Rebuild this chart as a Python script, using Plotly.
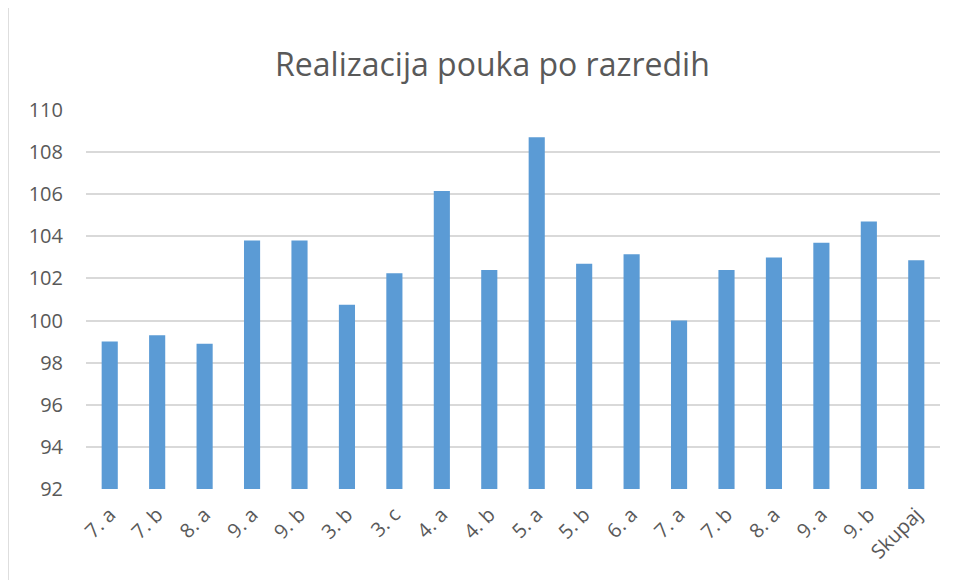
import plotly.graph_objects as go

categories = ["7. a", "7. b", "8. a", "9. a", "9. b", "3. b", "3. c", "4. a", "4. b",
              "5. a", "5. b", "6. a", "7. a", "7. b", "8. a", "9. a", "9. b", "Skupaj"]
values = [99.0, 99.3, 98.9, 103.8, 103.8, 100.75, 102.25, 106.15, 102.4,
          108.7, 102.7, 103.15, 100.0, 102.4, 103.0, 103.7, 104.7, 102.87]
y_ticks = [92, 94, 96, 98, 100, 102, 104, 106, 108, 110]
y_min = 92

positions = list(range(len(categories)))

fig = go.Figure(go.Bar(
    x=positions, y=[v - y_min for v in values], base=y_min,
    marker=dict(color="#5b9bd5", line=dict(width=0)),
    width=0.34,
    customdata=values,
    hovertemplate="%{customdata}<extra></extra>",
))

font_family = "Open Sans, Lato, sans-serif"
# page body has an 8px margin; figure offsets compensate for it
fig.update_layout(
    width=958, height=580,
    paper_bgcolor="white", plot_bgcolor="white",
    margin=dict(l=78, r=26, t=102, b=99),
    title=dict(text="Realizacija pouka po razredih", x=0.5057, xanchor="center",
               xref="container",
               y=1 - 57 / 580, yanchor="middle",
               font=dict(family=font_family, size=32, color="#595959")),
    showlegend=False,
)
fig.update_xaxes(
    tickmode="array", tickvals=positions, ticktext=categories,
    tickangle=-45, range=[-0.5, len(categories) - 0.5],
    showgrid=False, zeroline=False, showline=False, ticks="",
    ticklabelstandoff=9,
    tickfont=dict(family=font_family, size=20, color="#595959"),
)
fig.update_yaxes(
    range=[92, 110], tickvals=y_ticks, showgrid=True, gridcolor="#d9d9d9", gridwidth=1.5,
    zeroline=False, showline=False, ticks="", ticklabelstandoff=22,
    tickfont=dict(family=font_family, size=20, color="#595959"),
)
fig.add_shape(type="line", xref="paper", yref="paper", x0=-0.0912, x1=-0.0912, y0=-0.4, y1=1.4,
              line=dict(color="#d9d9d9", width=1.5))
fig.write_html("out.html")
